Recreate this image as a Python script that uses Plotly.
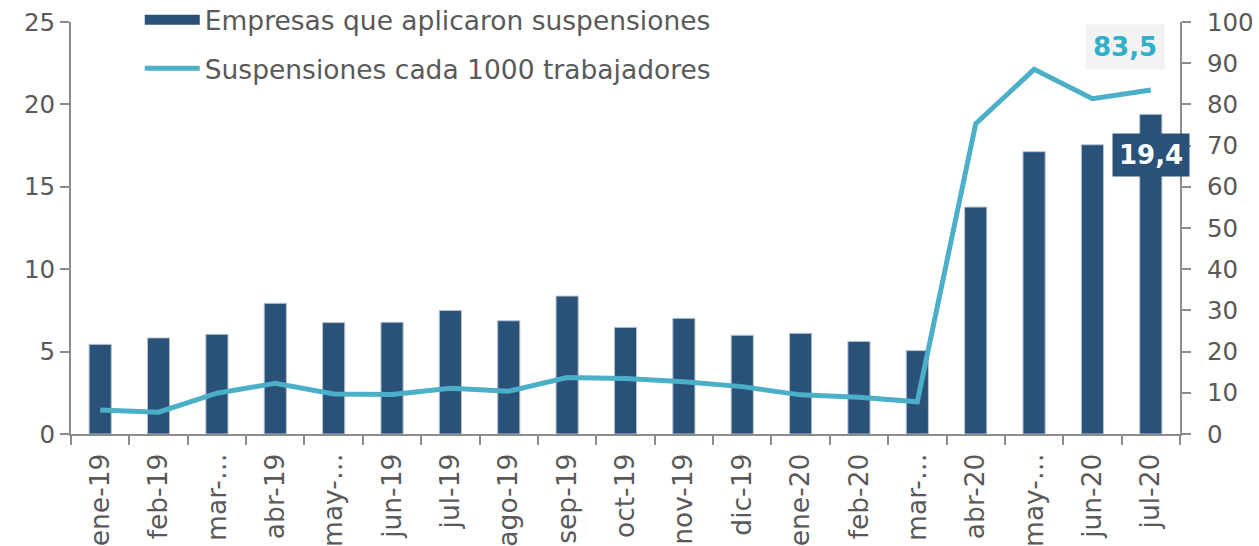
import plotly.graph_objs as go

months = ["ene-19", "feb-19", "mar-19", "abr-19", "may-19", "jun-19", "jul-19",
          "ago-19", "sep-19", "oct-19", "nov-19", "dic-19", "ene-20", "feb-20",
          "mar-20", "abr-20", "may-20", "jun-20", "jul-20"]
tick_labels = ["ene-19", "feb-19", "mar-…", "abr-19", "may-…", "jun-19", "jul-19",
               "ago-19", "sep-19", "oct-19", "nov-19", "dic-19", "ene-20", "feb-20",
               "mar-…", "abr-20", "may-…", "jun-20", "jul-20"]
empresas = [5.44, 5.83, 6.05, 7.93, 6.76, 6.78, 7.5, 6.87, 8.37, 6.47, 7.02,
            5.99, 6.11, 5.62, 5.06, 13.77, 17.13, 17.55, 19.4]
suspensiones = [5.8, 5.3, 9.9, 12.3, 9.7, 9.6, 11.1, 10.4, 13.7, 13.5, 12.7,
                11.5, 9.5, 8.9, 7.8, 75.3, 88.5, 81.4, 83.5]

dark_blue = "#2a5279"
teal = "#4bafc8"
grey_txt = "#595959"
axis_col = "#8c8c8c"
font_fam = "DejaVu Sans, Verdana, sans-serif"

fig = go.Figure()
fig.add_trace(go.Bar(
    x=months, y=empresas, name="Empresas que aplicaron suspensiones",
    marker=dict(color=dark_blue, line=dict(color="#b8c4d2", width=1)),
    width=0.38, showlegend=False,
))
# legend entry drawn as a wide block, like the original
fig.add_trace(go.Scatter(
    x=[months[0]], y=[None], name="Empresas que aplicaron suspensiones",
    mode="lines", line=dict(color=dark_blue, width=15), legendgroup="a",
))
fig.add_trace(go.Scatter(
    x=months, y=suspensiones, name="Suspensiones cada 1000 trabajadores",
    mode="lines", line=dict(color=teal, width=5), yaxis="y2", legendgroup="b",
))

fig.add_annotation(x="jul-20", y=suspensiones[-1], yref="y2",
                   text="<b>83,5</b>", showarrow=False, xshift=-26, yshift=43,
                   font=dict(size=26, color="#2fb0c8", family=font_fam),
                   bgcolor="#f2f2f2", borderpad=7)
fig.add_annotation(x="jul-20", y=empresas[-1], yref="y",
                   text="<b>19,4</b>", showarrow=False, xshift=0, yshift=-41,
                   font=dict(size=26, color="white", family=font_fam),
                   bgcolor=dark_blue, borderpad=6)

fig.update_layout(
    template="none",
    width=1259, height=546,
    margin=dict(l=71, r=79, t=22, b=112, autoexpand=False),
    plot_bgcolor="white", paper_bgcolor="white",
    font=dict(family=font_fam, size=26.5, color=grey_txt),
    legend=dict(x=0.062, y=1.063, xanchor="left", yanchor="top",
                traceorder="grouped", tracegroupgap=11, itemwidth=55,
                font=dict(size=26.5, color=grey_txt),
                bgcolor="rgba(0,0,0,0)"),
    xaxis=dict(
        type="category", tickvals=months, ticktext=tick_labels,
        categoryorder="array", categoryarray=months,
        range=[-0.5, len(months) - 0.5],
        tickangle=-90, showline=True, linecolor=axis_col, linewidth=2,
        ticks="outside", tickson="boundaries", ticklen=9, tickcolor=axis_col,
        tickwidth=2, showgrid=False, automargin=False,
        ticklabelstandoff=7, ticklabeloverflow="allow",
    ),
    yaxis=dict(
        range=[0, 25], dtick=5, showline=True, linecolor=axis_col, linewidth=2,
        ticks="outside", ticklen=9, tickcolor=axis_col, tickwidth=2,
        showgrid=False, zeroline=False, automargin=False,
        tickfont=dict(size=24.5), ticklabeloverflow="allow",
    ),
    yaxis2=dict(
        range=[0, 100], dtick=10, overlaying="y", side="right",
        showline=True, linecolor=axis_col, linewidth=2,
        ticks="outside", ticklen=9, tickcolor=axis_col, tickwidth=2,
        showgrid=False, zeroline=False, automargin=False,
        tickfont=dict(size=24.5), ticklabelstandoff=11,
        ticklabeloverflow="allow",
    ),
)

# the page's default 8px body margin would shift the chart off the window
fig.write_html("out.html", config={"displayModeBar": False},
               post_script="document.body.style.margin='0';")
